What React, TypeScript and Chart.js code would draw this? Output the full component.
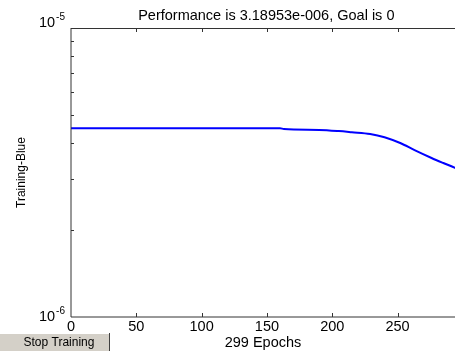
import React, { useEffect, useRef } from "react";
import { Chart, registerables } from "chart.js";

Chart.register(...registerables);

// Training record: epoch numbers and the performance value at each
const epochs = [0, 100, 160, 163, 190, 205, 215, 229, 240, 252, 263, 276, 285, 294, 299];
const performance = [
  4.5e-6, 4.5e-6, 4.5e-6, 4.47e-6, 4.44e-6, 4.4e-6, 4.36e-6, 4.3e-6, 4.19e-6,
  4.0e-6, 3.78e-6, 3.55e-6, 3.41e-6, 3.28e-6, 3.18953e-6,
];

const xTicks = [0, 50, 100, 150, 200, 250];
const yMajorTicks = [1e-6, 1e-5];
const yMinorTicks = [2e-6, 3e-6, 4e-6, 5e-6, 6e-6, 7e-6, 8e-6, 9e-6];

const titleText = "Performance is 3.18953e-006, Goal is 0";
const xLabelText = "299 Epochs";
const yLabelText = "Training-Blue";
const buttonText = "Stop Training";

const FONT = '"Liberation Sans", Arial, Helvetica, sans-serif';

const axesPlugin = {
  id: "matlabAxes",
  afterDraw(chart: any) {
    const { ctx, chartArea, scales } = chart;
    const { left, right, top, bottom } = chartArea;
    const xs = scales.x;
    const ys = scales.y;
    ctx.save();

    // axes box
    ctx.strokeStyle = "#333";
    ctx.lineWidth = 1;
    ctx.beginPath();
    ctx.moveTo(left, top + 0.5);
    ctx.lineTo(right, top + 0.5);
    ctx.moveTo(left, bottom);
    ctx.lineTo(right, bottom);
    ctx.moveTo(left, top);
    ctx.lineTo(left, bottom);
    ctx.moveTo(right, top);
    ctx.lineTo(right, bottom);
    ctx.stroke();

    // inward ticks
    ctx.beginPath();
    for (const v of yMinorTicks) {
      const py = Math.round(ys.getPixelForValue(v)) + 0.5;
      ctx.moveTo(left, py);
      ctx.lineTo(left + 3, py);
    }
    for (const v of xTicks) {
      if (v === 0) continue;
      const px = Math.round(xs.getPixelForValue(v)) + 0.5;
      ctx.moveTo(px, bottom);
      ctx.lineTo(px, bottom - 4);
      ctx.moveTo(px, top);
      ctx.lineTo(px, top + 4);
    }
    ctx.stroke();

    ctx.fillStyle = "#000";

    // x tick labels
    ctx.font = `14.5px ${FONT}`;
    ctx.textAlign = "center";
    ctx.textBaseline = "middle";
    for (const v of xTicks) {
      ctx.fillText(String(v), xs.getPixelForValue(v), bottom + 10);
    }

    // y tick labels: 10 with superscript exponent
    for (const v of yMajorTicks) {
      const exp = String(Math.round(Math.log10(v)));
      const py = ys.getPixelForValue(v) - (v === ys.max ? 5.5 : 0.5);
      ctx.font = `10px ${FONT}`;
      const supW = ctx.measureText(exp).width;
      const supX = left - 6 - supW;
      ctx.textAlign = "left";
      ctx.fillText(exp, supX, py - 5);
      ctx.font = `14.5px ${FONT}`;
      ctx.textAlign = "right";
      ctx.fillText("10", supX - 1, py);
    }

    // title
    ctx.font = `14.5px ${FONT}`;
    ctx.textAlign = "center";
    ctx.textBaseline = "alphabetic";
    ctx.fillText(titleText, (left + right) / 2, 20);

    // x label
    ctx.fillText(xLabelText, 263, 347);

    // y label
    ctx.save();
    ctx.font = `12px ${FONT}`;
    ctx.translate(22, (top + bottom) / 2);
    ctx.rotate(-Math.PI / 2);
    ctx.textBaseline = "middle";
    ctx.fillText(yLabelText, 0, 0);
    ctx.restore();

    // stop button
    ctx.fillStyle = "#d4d0c8";
    ctx.fillRect(0, 333, 110, 18);
    ctx.strokeStyle = "#ffffff";
    ctx.beginPath();
    ctx.moveTo(0, 333.5);
    ctx.lineTo(110, 333.5);
    ctx.stroke();
    ctx.strokeStyle = "#404040";
    ctx.beginPath();
    ctx.moveTo(109.5, 333);
    ctx.lineTo(109.5, 351);
    ctx.stroke();
    ctx.fillStyle = "#000";
    ctx.font = `12px ${FONT}`;
    ctx.textAlign = "center";
    ctx.fillText(buttonText, 59, 346);

    ctx.restore();
  },
};

export default function App() {
  const canvasRef = useRef<HTMLCanvasElement | null>(null);

  useEffect(() => {
    const canvas = canvasRef.current;
    if (!canvas) return;
    const chart = new Chart(canvas, {
      type: "line",
      data: {
        datasets: [
          {
            data: epochs.map((e, i) => ({ x: e, y: performance[i] })),
            borderColor: "#0000ff",
            borderWidth: 2,
            pointRadius: 0,
            cubicInterpolationMode: "monotone",
            fill: false,
          },
        ],
      },
      options: {
        responsive: false,
        animation: false,
        devicePixelRatio: 1,
        layout: { padding: { left: 71, top: 28, right: 8.4, bottom: 34 } },
        scales: {
          x: { type: "linear", min: 0, max: 299, display: false },
          y: { type: "logarithmic", min: 1e-6, max: 1e-5, display: false },
        },
        plugins: {
          legend: { display: false },
          title: { display: false },
          tooltip: { enabled: false },
        },
      },
      plugins: [axesPlugin],
    });
    return () => chart.destroy();
  }, []);

  return (
    <div
      style={{
        position: "fixed",
        left: 0,
        top: 0,
        width: 455,
        height: 351,
        overflow: "hidden",
        background: "#fff",
      }}
    >
      <canvas ref={canvasRef} width={470} height={351} style={{ display: "block" }} />
    </div>
  );
}
